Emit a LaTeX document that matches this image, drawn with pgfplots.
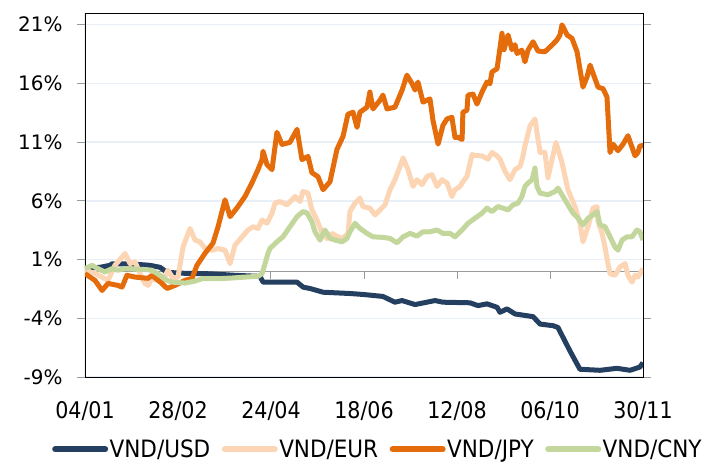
\documentclass[border=0pt]{standalone}
\usepackage{pgfplots}
\pgfplotsset{compat=1.18}
\usepackage{fontspec}
\setmainfont{DejaVu Sans}
\newfontfamily\condfont{DejaVu Sans Condensed}
\definecolor{cusd}{HTML}{243F60}
\definecolor{ceur}{HTML}{FCD5B5}
\definecolor{cjpy}{HTML}{E46C0A}
\definecolor{ccny}{HTML}{C3D69B}
\definecolor{gridc}{HTML}{E9EFF6}
\definecolor{axc}{HTML}{9A9A9A}
\begin{document}
\begin{tikzpicture}
\begin{axis}[
  scale only axis, width=558bp, height=364bp,
  xmin=0, xmax=330, ymin=-9, ymax=22,
  axis line style={black, line width=0.9bp},
  xtick={0,55,110,165,220,275,330},
  xticklabels={04/01,28/02,24/04,18/06,12/08,06/10,30/11},
  ytick={-9,-4,1,6,11,16,21},
  yticklabels={-9\%,-4\%,1\%,6\%,11\%,16\%,21\%},
  tick align=outside,
  xtick style={draw=none},
  ytick style={draw=axc, line width=0.8bp},
  major tick length=8bp,
  ymajorgrids, grid style={gridc, line width=1.5bp},
  yticklabel style={font=\fontsize{20}{23}\selectfont, xshift=-11bp},
  xticklabel style={font=\condfont\fontsize{23}{26}\selectfont, yshift=-13bp},
  legend columns=4,
  legend style={draw=none, fill=none, at={(rel axis cs:0,0)}, anchor=north west,
    xshift=-36bp, yshift=-59bp, font=\condfont\fontsize{24}{27}\selectfont,
    /tikz/every even column/.append style={column sep=10bp},
    nodes={inner sep=1.5bp}},
  legend image code/.code={\draw[#1, line width=6bp, line cap=round] (0bp,0bp) -- (50bp,0bp);},
  every axis plot/.append style={line width=5bp, line join=round},
]
\draw[axc, line width=1bp] (axis cs:0,0) -- (axis cs:330,0);
\draw[axc, line width=1bp] (axis cs:55,0) -- (axis cs:55,-0.68);
\draw[axc, line width=1bp] (axis cs:110,0) -- (axis cs:110,-0.68);
\draw[axc, line width=1bp] (axis cs:165,0) -- (axis cs:165,-0.68);
\draw[axc, line width=1bp] (axis cs:220,0) -- (axis cs:220,-0.68);
\draw[axc, line width=1bp] (axis cs:275,0) -- (axis cs:275,-0.68);

\addplot[cusd] table {
0 0.26
8.9 0.34
14.8 0.51
16 0.64
26.6 0.64
38.4 0.51
44.4 0.34
48.5 -0.09
59.1 -0.17
73.9 -0.21
88.7 -0.34
103.5 -0.43
105.3 -0.92
125.4 -0.92
129 -1.35
133 -1.46
140.8 -1.78
156.7 -1.89
164.4 -1.97
176.2 -2.14
183.3 -2.63
187.5 -2.49
195.2 -2.83
207 -2.49
211.7 -2.63
227.7 -2.68
232.4 -2.92
237.7 -2.77
243.7 -3.06
245.4 -3.49
249.6 -3.20
254.3 -3.63
265 -3.86
269.1 -4.49
276.8 -4.63
279.7 -4.78
286.8 -6.78
292.7 -8.34
304.6 -8.43
314.6 -8.26
322.3 -8.43
328.2 -8.15
330 -7.78
};
\addlegendentry{VND/USD}

\addplot[ceur] table {
0 0.09
5.9 -0.17
13.6 -0.77
17.7 0.51
23.7 1.52
26.6 0.66
29.6 0.80
32.5 -0.17
35.5 -1.05
37.3 -1.20
39.6 -0.60
45.5 -0.92
49.1 0.09
52 -0.60
55 -0.49
58 2.08
62.1 3.65
65.1 2.66
68 2.51
71 1.94
75.1 1.80
78.7 1.94
82.8 1.80
85.8 0.66
88.7 2.23
92.9 2.94
96.4 3.52
99.4 3.80
102.3 3.65
104.7 4.37
107.6 4.09
110.6 4.95
112.4 5.81
115.3 5.94
119.5 5.66
124.2 6.37
127.2 5.94
128.9 6.80
131.9 6.66
134.2 5.23
137.2 4.37
140.2 3.23
143.1 2.80
146.1 3.23
149.6 2.94
152.6 2.80
155.5 3.23
156.7 5.09
159.7 5.81
162.6 6.23
164.4 5.51
168.5 5.38
171.5 4.80
174.5 5.23
177.4 5.66
180.4 6.95
183.3 7.80
186.3 8.94
188.1 9.66
191 8.66
194 7.23
196.3 7.80
199.3 7.38
202.3 8.09
205.2 8.23
208.2 7.23
211.1 7.80
214.1 7.52
217 6.37
218.8 6.95
221.8 7.23
223 7.52
225.9 8.09
228.9 9.95
230.6 9.86
234.8 9.83
238.3 9.55
240.7 10.12
243.7 9.83
245.4 9.55
248.4 8.52
251.3 7.80
254.3 8.66
257.3 8.94
259 9.80
260.2 10.69
263.2 12.40
266.1 12.97
267.9 11.26
269.1 10.12
272 10.12
273.8 7.98
276.2 9.52
278.5 10.98
279.7 10.40
282.1 9.26
285.6 6.95
289.8 5.51
292.7 4.09
294.5 2.51
297.5 3.80
300.4 5.38
302.8 5.51
303.4 4.23
305.8 3.23
307.5 2.08
309.3 0.66
310.5 -0.20
313.4 -0.34
316.4 0.37
319.4 0.66
321.1 -0.34
323.5 -0.92
325.3 -0.34
327 -0.49
330 0.23
};
\addlegendentry{VND/EUR}

\addplot[cjpy] table {
0 -0.20
5.9 -0.77
10.1 -1.63
13.6 -1.03
19.5 -1.20
21.9 -1.35
24.8 -0.34
29.6 -0.49
37.3 -0.60
39.6 -0.34
45.5 -1.03
48.5 -1.46
53.2 -1.20
59.1 -0.77
63.3 -0.60
66.2 0.51
71 1.54
75.7 2.40
78.7 3.80
82.8 6.09
85.8 4.66
89.9 5.40
94.6 6.37
98.8 7.55
102.3 8.66
104.7 9.52
105.3 10.23
107.6 9.09
110.6 8.66
113.5 11.84
116.5 10.81
121.2 10.98
125.4 12.09
128.3 9.52
131.9 9.78
134.2 8.40
137.8 8.06
140.8 6.95
144.9 7.63
149 10.38
152.6 11.49
155.5 13.38
158.5 13.55
160.9 12.26
162.6 13.55
166.8 13.98
168.5 15.27
170.3 13.83
174.5 14.58
176.2 15.01
178.6 13.83
183.3 13.98
187.5 15.42
190.4 16.71
193.4 15.99
195.2 15.44
196.9 16.12
199.9 14.41
204 14.69
205.8 12.86
208.8 10.83
211.7 12.44
214.1 12.98
217 13.12
218.8 11.41
220.6 11.41
223 11.23
223.5 13.55
225.9 13.72
226.5 15.01
229.5 15.09
231.8 14.24
234.8 15.27
237.7 16.12
239.5 15.98
240.7 16.98
243.7 17.26
245.4 18.98
246.6 20.27
247.8 18.87
250.2 20.13
252.5 18.87
254.3 19.30
255.5 18.55
258.4 18.84
260.2 17.84
262 18.84
265 19.55
267.9 18.76
272 18.70
276.2 19.27
279.1 19.70
280.9 20.13
282.1 20.99
285.1 20.13
288 19.84
291 18.70
294.5 15.69
296.9 16.55
298.7 17.56
301.6 16.41
303.4 15.69
306.4 15.55
308.7 14.84
310.5 10.12
312.3 10.83
315.2 10.27
318.2 10.83
321.1 11.55
325.3 9.84
327 10.12
328.2 10.69
330 10.70
};
\addlegendentry{VND/JPY}

\addplot[ccny] table {
0 0.23
4.1 0.51
7.7 0.23
11.8 -0.06
16 0.23
19.5 0.09
23.7 0.23
35.5 0.15
39.6 0.09
44.4 -0.34
48.5 -0.77
51.5 -0.92
59.1 -1.00
65.1 -0.83
69.2 -0.63
78.7 -0.63
86.9 -0.57
94.6 -0.49
102.3 -0.43
104.7 -0.20
106.5 0.66
108.2 1.52
109.4 1.95
113.5 2.51
117.1 2.94
121.2 3.80
125.4 4.66
128.9 5.09
131.3 4.97
134.2 4.23
136 3.37
139 2.66
141.9 3.52
144.9 2.80
147.9 2.66
152 2.51
154.9 2.80
156.7 3.37
159.7 4.09
162.6 3.66
166.8 3.23
170.3 2.94
176.2 2.89
180.4 2.80
184.5 2.43
188.1 2.94
192.2 3.23
196.3 3.00
199.9 3.37
204 3.37
208.2 3.52
211.7 3.23
215.9 3.23
218.8 2.94
223 3.52
226.5 4.09
230.6 4.52
234.8 4.95
237.7 5.38
240.7 5.09
244.2 5.52
247.2 5.38
250.2 5.23
253.1 5.66
256.1 5.81
258.4 6.37
260.2 7.23
262 7.52
264.4 7.80
266.1 8.80
267.3 7.23
269.1 6.66
273.8 6.52
278 6.80
279.7 7.09
282.7 6.37
285.6 5.66
288.6 4.95
291.6 4.52
294.5 3.95
297.5 4.52
300.4 4.80
302.8 5.09
304.6 3.95
307.5 3.80
310.5 2.94
313.4 2.08
315.2 1.80
317.6 2.66
320.5 2.94
323.5 2.94
326.4 3.52
328.2 3.37
330 2.66
};
\addlegendentry{VND/CNY}

\draw[axc, line width=1bp] (rel axis cs:0,0) -- (rel axis cs:0,1);
\end{axis}
\path ([xshift=-85bp,yshift=-86bp]current axis.south west) rectangle ([xshift=73bp,yshift=13bp]current axis.north east);
\end{tikzpicture}
\end{document}
